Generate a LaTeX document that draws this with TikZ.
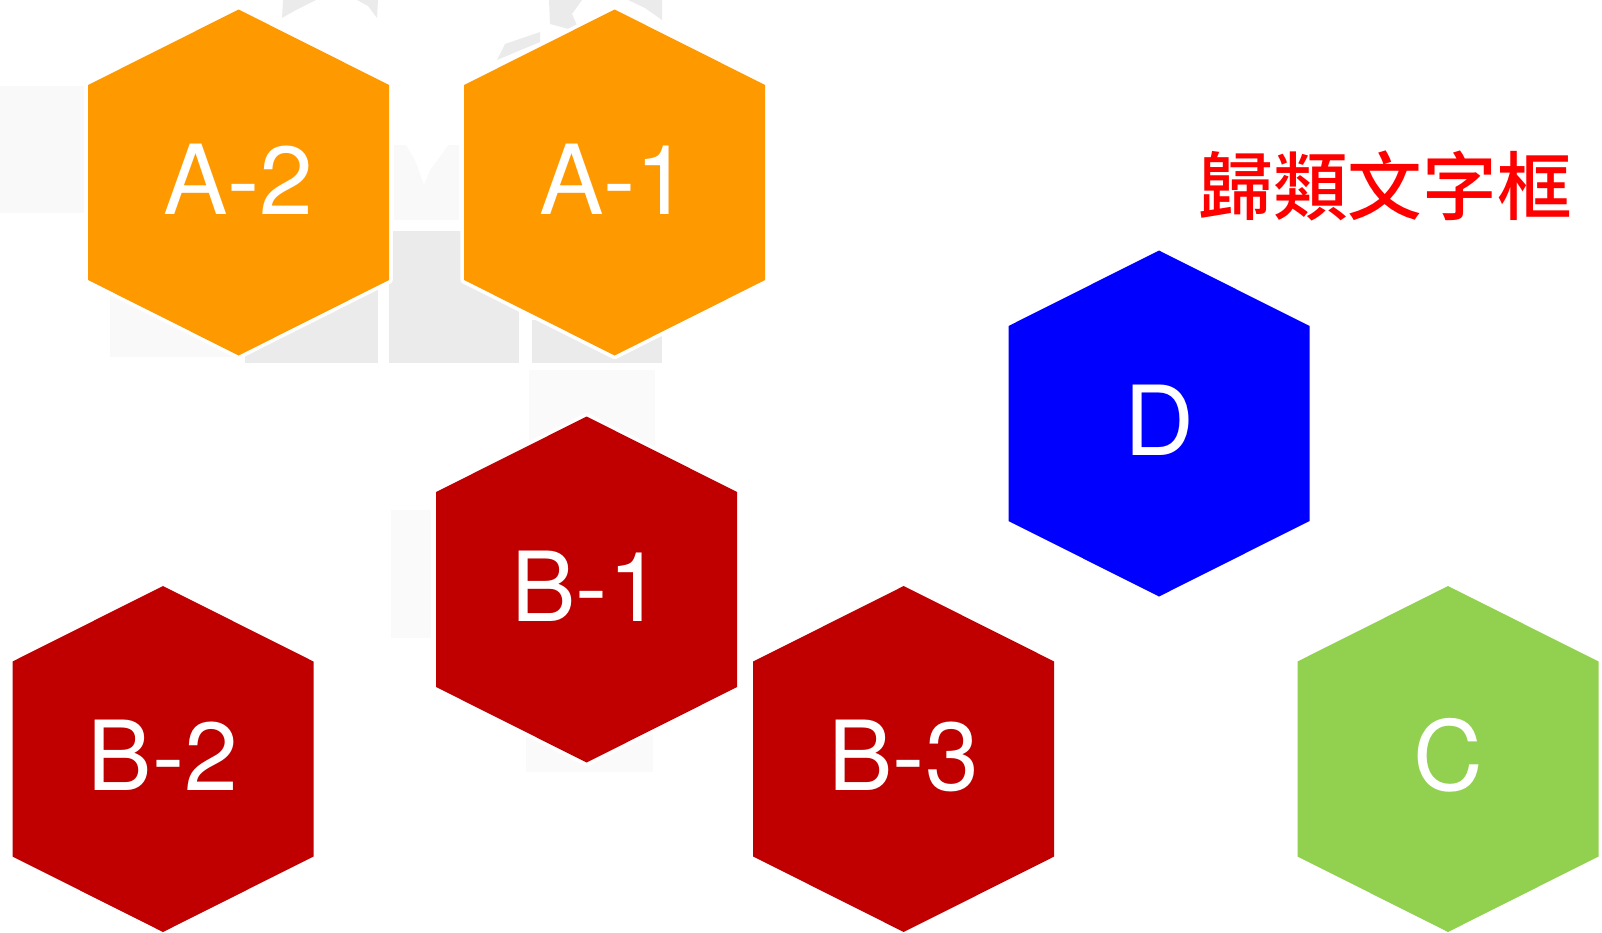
\documentclass[tikz,border=0pt]{standalone}
\usepackage{fontspec}
\setmainfont{TeX Gyre Heros}
\newfontfamily\cjkfont{Noto Sans CJK TC}[UprightFont={* Medium}]
\usepackage{tikz}

\definecolor{amberfill}{HTML}{FF9900}
\definecolor{redfill}{HTML}{C00000}
\definecolor{bluefill}{HTML}{0000FF}
\definecolor{greenfill}{HTML}{92D050}

\tikzset{
  hexlabel/.style={text=white,inner sep=0pt,yshift=2.6pt,
    font=\fontsize{72.5}{73}\selectfont},
  hexbody/.style={preaction={draw=white,line width=5.5pt,line join=round}},
  backdark/.style={fill=black!8},
  backlight/.style={fill=black!2.2},
  backpale/.style={fill=black!2}
}

% one hexagon: name, centre x, centre y, colour, label
\newcommand{\hexcell}[5]{
  \fill[hexbody,fill=#4] (#2,#3-173) -- ++(150.5,75.5) -- ++(0,195)
    -- ++(-150.5,75.5) -- ++(-150.5,-75.5) -- ++(0,-195) -- cycle;
  \node[hexlabel] (#1) at (#2,#3) {#5};
}

\begin{document}
\begin{tikzpicture}[x=0.75pt,y=-0.75pt]
  \useasboundingbox (0,0) rectangle (1602,932);

  % faint backdrop
  \fill[backlight] (0,86) rectangle (84,213);
  \fill[backlight] (394,145) rectangle (459,220);
  \fill[backlight] (110,290) rectangle (240,357);
  \fill[backdark] (245,290) rectangle (378,363);
  \fill[backdark] (389,231) rectangle (519,363);
  \fill[backdark] (532,320) rectangle (662,363);
  \fill[backpale] (529,370) rectangle (655,460);
  \fill[backpale] (391,510) rectangle (431,638);
  \fill[backpale] (526,730) rectangle (653,772);
  \fill[white] (406,145) -- (450,143) -- (430,170) -- (424,185) -- (415,160) -- cycle;
  \fill[backdark] (283,0) -- (316,0) -- (296,10) -- (282,18) -- cycle;
  \fill[backdark] (357,0) -- (378,0) -- (377,18) -- (368,6) -- cycle;
  \fill[backdark] (549,0) -- (582,0) -- (572,14) -- (580,32) -- (550,24) -- cycle;
  \fill[backdark] (628,0) -- (662,0) -- (662,20) -- (645,8) -- cycle;
  \fill[backdark] (497,60) -- (505,44) -- (540,32) -- (540,42) -- cycle;

  % hexagons
  \hexcell{atwo}{238.6}{182.5}{amberfill}{A-2}
  \hexcell{aone}{614.6}{182.5}{amberfill}{A-1}
  \hexcell{dcell}{1159}{423.5}{bluefill}{D}
  \hexcell{bone}{586.6}{589.5}{redfill}{B-1}
  \hexcell{btwo}{163}{759}{redfill}{B-2}
  \hexcell{bthree}{903.7}{759}{redfill}{B-3}
  \hexcell{ccell}{1448}{759}{greenfill}{C}

  \node[text=red,inner sep=0pt,font={\cjkfont\fontsize{56}{56}\selectfont}] (title) at (1385,186) {歸類文字框};
\end{tikzpicture}
\end{document}
